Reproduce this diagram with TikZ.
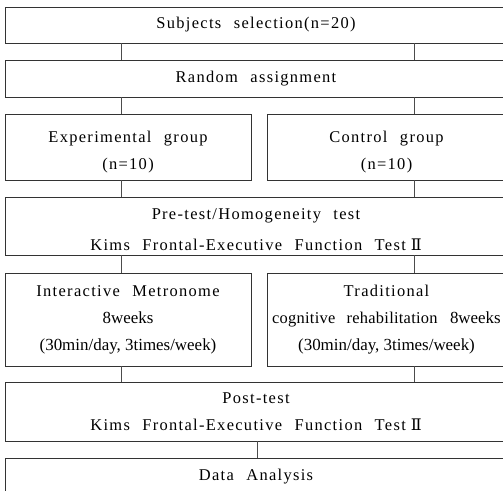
\documentclass[tikz,border=0pt]{standalone}
\usepackage{fontspec}
\setmainfont{Liberation Serif}
\newfontfamily\wide[LetterSpace=8,WordSpace=2.3]{Liberation Serif}
\newfontfamily\midwide[LetterSpace=1.5,WordSpace=2.6]{Liberation Serif}
\newfontfamily\romfont{DejaVu Serif}
\newcommand{\romtwo}{\hspace{5bp}{\romfont\fontsize{16}{16}\selectfont Ⅱ}}
\begin{document}
\begin{tikzpicture}[x=1bp,y=-1bp,
  box/.style={draw=black!80,line width=0.9bp,rectangle,inner sep=0pt,align=center,font=\fontsize{16.5}{27}\selectfont\wide},
  txt/.style={inner sep=0pt,align=center,font=\fontsize{16.5}{27}\selectfont\wide},
  link/.style={draw=black!70,line width=0.9bp}]
\useasboundingbox (0,0) rectangle (503,491);
\clip (0,0) rectangle (503,491);
\node[box,minimum width=501bp,minimum height=36bp] (sel) at (256,25) {Subjects selection(n=20)};
\node[box,minimum width=501bp,minimum height=37bp] (rand) at (256,78.5) {Random assignment};
\node[box,minimum width=246bp,minimum height=66bp] (exp) at (128,147) {};
\node[txt] (exptxt) at ([yshift=-5bp]exp.center) {Experimental group\\(n=10)};
\node[box,minimum width=239bp,minimum height=66bp] (con) at (386.5,147) {};
\node[txt] (contxt) at ([yshift=-5bp]con.center) {Control group\\(n=10)};
\node[box,minimum width=501bp,minimum height=58bp] (pre) at (256,226) {};
\node[txt,font=\fontsize{16.5}{31}\selectfont\wide] (pretxt) at ([yshift=-4bp]pre.center) {Pre-test/Homogeneity test\\Kims Frontal-Executive Function Test\romtwo};
\node[box,minimum width=246bp,minimum height=93bp] (im) at (128,319.5) {Interactive Metronome\\{\fontsize{17}{27}\selectfont\rmfamily 8weeks}\\{\fontsize{17}{27}\selectfont\rmfamily(30min/day, 3times/week)}};
\node[box,minimum width=239bp,minimum height=93bp] (trad) at (386.5,319.5) {Traditional\\{\midwide cognitive rehabilitation} {\fontsize{17}{27}\selectfont\rmfamily 8weeks}\\{\fontsize{17}{27}\selectfont\rmfamily(30min/day, 3times/week)}};
\node[box,minimum width=501bp,minimum height=59bp] (post) at (256,411.5) {Post-test\\Kims Frontal-Executive Function Test\romtwo};
\node[box,minimum width=501bp,minimum height=60bp,anchor=north] (data) at (256,458) {};
\node[txt] (datatxt) at (256,477) {Data Analysis};
\draw[link] (sel.south -| 121,0) -- (rand.north -| 121,0);
\draw[link] (sel.south -| 414,0) -- (rand.north -| 414,0);
\draw[link] (rand.south -| 121,0) -- (exp.north -| 121,0);
\draw[link] (rand.south -| 414,0) -- (con.north -| 414,0);
\draw[link] (exp.south -| 121,0) -- (pre.north -| 121,0);
\draw[link] (con.south -| 414,0) -- (pre.north -| 414,0);
\draw[link] (pre.south -| 121,0) -- (im.north -| 121,0);
\draw[link] (pre.south -| 414,0) -- (trad.north -| 414,0);
\draw[link] (im.south -| 121,0) -- (post.north -| 121,0);
\draw[link] (trad.south -| 414,0) -- (post.north -| 414,0);
\draw[link] (post.south -| 257,0) -- (data.north -| 257,0);
\end{tikzpicture}
\end{document}
